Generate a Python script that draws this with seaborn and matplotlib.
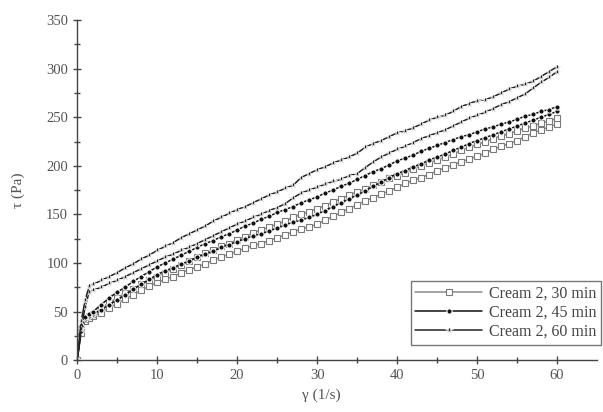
import numpy as np
import pandas as pd
import matplotlib
matplotlib.use("Agg")
import matplotlib.pyplot as plt
import seaborn as sns

# shear rate (1/s)
gamma = [0, 0.5, 1, 1.5] + list(range(2, 61))

# Cream 2, 60 min
c60_up = [0, 40, 62, 76,
          78, 82, 86, 90, 95, 99, 104, 108, 113, 117, 121, 126, 130, 134, 138, 143, 147, 151, 155,
          158, 162, 166, 170, 173, 177, 180, 188, 192, 196, 199, 203, 206, 209, 213, 219, 223, 226,
          230, 234, 236, 239, 243, 247, 250, 252, 256, 261, 264, 267, 268, 271, 275, 279, 282, 284,
          287, 292, 297, 302]
c60_down = [0, 32, 55, 70,
            72, 75, 79, 82, 86, 90, 94, 98, 102, 106, 109, 113, 116, 120, 124, 128, 132, 136, 140,
            143, 147, 150, 154, 157, 161, 167, 172, 175, 178, 181, 184, 186, 190, 192, 198, 204, 209,
            213, 217, 220, 224, 228, 231, 234, 237, 241, 245, 249, 252, 255, 259, 263, 266, 270, 274,
            280, 286, 291, 297]
# Cream 2, 45 min
c45_up = [0, 35, 44, 47,
          50, 57, 64, 70, 75, 81, 86, 91, 96, 100, 104, 108, 112, 116, 120, 123, 127, 130, 134,
          138, 141, 145, 148, 152, 155, 158, 162, 165, 168, 172, 175, 179, 182, 186, 190, 194, 197,
          201, 205, 208, 211, 215, 218, 221, 224, 227, 230, 232, 235, 238, 240, 243, 245, 248, 251,
          253, 256, 258, 261]
c45_down = [0, 30, 42, 45,
            47, 52, 57, 62, 67, 73, 78, 83, 88, 92, 95, 99, 102, 106, 109, 112, 116, 119, 122,
            125, 128, 130, 133, 136, 139, 142, 144, 147, 150, 154, 158, 162, 166, 170, 174, 179, 183,
            188, 192, 195, 199, 202, 206, 209, 212, 216, 219, 223, 226, 229, 232, 235, 238, 241, 244,
            247, 250, 253, 256]
# Cream 2, 30 min
c30_up = [0, 32, 42, 45,
          47, 53, 59, 64, 69, 73, 78, 82, 86, 90, 94, 98, 102, 106, 110, 113, 117, 120, 124,
          127, 131, 134, 137, 140, 143, 147, 150, 153, 156, 159, 163, 166, 170, 173, 176, 180, 183,
          187, 190, 193, 197, 200, 203, 206, 209, 212, 216, 219, 222, 225, 228, 231, 233, 236, 239,
          241, 244, 246, 249]
c30_down = [0, 28, 40, 43,
            45, 49, 54, 58, 63, 67, 72, 76, 80, 83, 86, 90, 93, 96, 99, 103, 106, 109, 112,
            115, 118, 120, 123, 126, 129, 132, 135, 137, 140, 144, 148, 152, 156, 160, 164, 167, 171,
            174, 178, 182, 185, 188, 191, 195, 198, 201, 204, 207, 210, 213, 217, 220, 223, 226, 230,
            234, 237, 240, 243]

labels = ["Cream 2, 30 min", "Cream 2, 45 min", "Cream 2, 60 min"]

frames = []
for lab, up, down in [(labels[0], c30_up, c30_down),
                      (labels[1], c45_up, c45_down),
                      (labels[2], c60_up, c60_down)]:
    frames.append(pd.DataFrame({"gamma": gamma, "tau": up, "sample": lab, "branch": "up"}))
    frames.append(pd.DataFrame({"gamma": gamma[::-1], "tau": down[::-1], "sample": lab, "branch": "down"}))
df = pd.concat(frames, ignore_index=True)

sns.set_theme(style="ticks")
plt.rcParams["font.family"] = ["Liberation Serif", "DejaVu Serif"]

fig = plt.figure(figsize=(6.03, 4.12), dpi=100)
ax = fig.add_axes([0.128, 0.126, 0.862, 0.825])

palette = {labels[0]: "#8a8a8a", labels[1]: "#111111", labels[2]: "#222222"}
markers = {labels[0]: "s", labels[1]: "o", labels[2]: "*"}

sns.lineplot(data=df, x="gamma", y="tau", hue="sample", style="sample",
             units="branch", estimator=None, sort=False,
             palette=palette, markers=markers, dashes=False,
             linewidth=1.1, markersize=4.2, markeredgewidth=0.8,
             ax=ax, legend=True)

for line in ax.lines:
    m = line.get_marker()
    if m == "s":
        line.set_markerfacecolor("white")
        line.set_markeredgecolor("#7a7a7a")
        line.set_markersize(4.0)
    elif m == "*":
        line.set_markersize(5.5)
        line.set_markeredgewidth(0.5)
    elif m == "o":
        line.set_markersize(3.8)

ax.set_xlim(0, 65)
ax.set_ylim(0, 350)
ax.set_xticks([0, 10, 20, 30, 40, 50, 60])
ax.set_xticks([5, 15, 25, 35, 45, 55], minor=True)
ax.set_yticks(range(0, 351, 50))
ax.set_yticks(range(25, 350, 50), minor=True)
for s in ["top", "right"]:
    ax.spines[s].set_visible(False)
for s in ["left", "bottom"]:
    ax.spines[s].set_color("#444444")
    ax.spines[s].set_linewidth(1.0)
ax.tick_params(axis="both", which="major", direction="inout", length=6, width=1,
               colors="#444444", labelcolor="#555555", labelsize=10.5)
ax.tick_params(axis="both", which="minor", direction="inout", length=4, width=1, colors="#444444")

ax.set_xlabel("γ (1/s)", fontsize=11, color="#555555")
ax.set_ylabel("τ (Pa)", fontsize=11, color="#555555")
ax.xaxis.set_label_coords(0.47, -0.085)
ax.yaxis.set_label_coords(-0.1, 0.5)

leg = ax.legend(loc="lower right", bbox_to_anchor=(1.008, 0.045), frameon=True,
                fancybox=False, edgecolor="#555555", fontsize=11.5, handlelength=4.2,
                borderpad=0.3, labelspacing=0.2, handletextpad=0.4, borderaxespad=0)
for t in leg.get_texts():
    t.set_color("#444444")
leg.get_frame().set_linewidth(1.0)

fig.savefig("out.png", dpi=100)
